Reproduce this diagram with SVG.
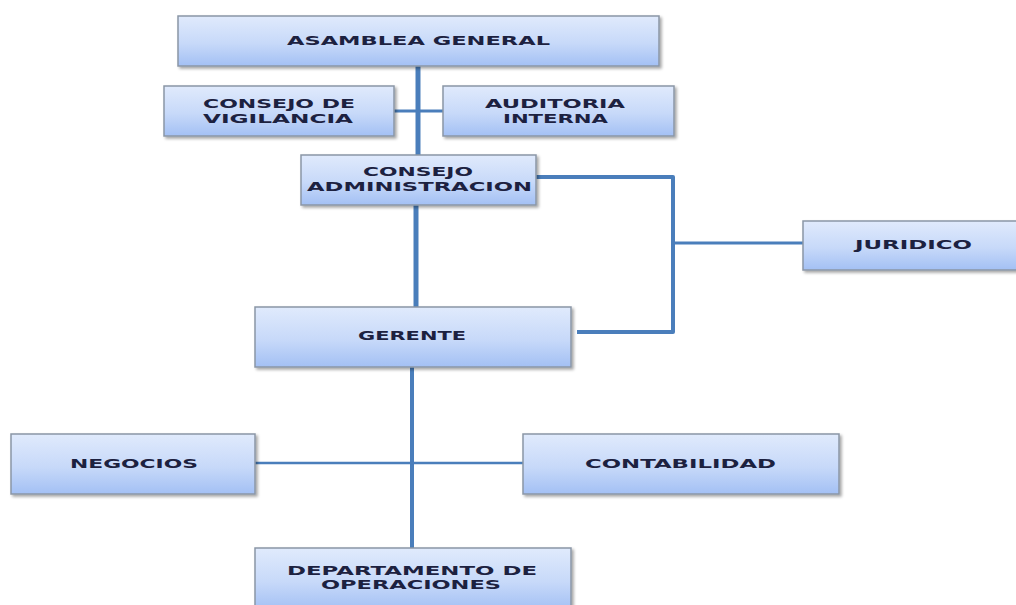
<svg xmlns="http://www.w3.org/2000/svg" width="1016" height="605" viewBox="0 0 1016 605">
<defs>
<linearGradient id="g" x1="0" y1="0" x2="0" y2="1">
<stop offset="0" stop-color="#e0eafc"/>
<stop offset="0.55" stop-color="#c7d9f9"/>
<stop offset="1" stop-color="#a3c0f4"/>
</linearGradient>
<filter id="sh" x="-5%" y="-10%" width="115%" height="130%">
<feDropShadow dx="2" dy="2" stdDeviation="1.5" flood-color="#000" flood-opacity="0.35"/>
</filter>
</defs>
<style>
.box{fill:url(#g);stroke:#8b96a6;stroke-width:1.5;filter:url(#sh)}
.t{font-family:"DejaVu Sans","Liberation Sans",sans-serif;font-weight:bold;font-size:13px;fill:#1c2140;text-anchor:middle}
.c{fill:none;stroke:#4a7ebb;stroke-linejoin:round}
</style>
<rect width="1016" height="605" fill="#fff"/>
<g id="connectors">
<line class="c" x1="418" y1="66" x2="418" y2="155" stroke-width="5"/>
<line class="c" x1="394" y1="111" x2="443" y2="111" stroke-width="3"/>
<line class="c" x1="416" y1="205" x2="416" y2="307" stroke-width="5"/>
<path class="c" d="M536 177 H673 V332 H577" stroke-width="4"/>
<line class="c" x1="673" y1="243" x2="803" y2="243" stroke-width="3"/>
<line class="c" x1="412" y1="367" x2="412" y2="548" stroke-width="4"/>
<line class="c" x1="255" y1="463" x2="523" y2="463" stroke-width="2.5"/>
</g>
<g id="asamblea">
<rect class="box" x="178" y="16" width="481" height="50"/>
<text class="t" x="418.5" y="44.5" textLength="263" lengthAdjust="spacingAndGlyphs">ASAMBLEA GENERAL</text>
</g>
<g id="vigilancia">
<rect class="box" x="164" y="86" width="230" height="50"/>
<text class="t" x="279" y="108" textLength="152" lengthAdjust="spacingAndGlyphs">CONSEJO DE</text>
<text class="t" x="278" y="123" textLength="150" lengthAdjust="spacingAndGlyphs">VIGILANCIA</text>
</g>
<g id="auditoria">
<rect class="box" x="443" y="86" width="231" height="50"/>
<text class="t" x="555" y="108" textLength="140" lengthAdjust="spacingAndGlyphs">AUDITORIA</text>
<text class="t" x="555.5" y="123" textLength="105" lengthAdjust="spacingAndGlyphs">INTERNA</text>
</g>
<g id="consejo-admin">
<rect class="box" x="301" y="155" width="235" height="50"/>
<text class="t" x="418" y="176" textLength="110" lengthAdjust="spacingAndGlyphs">CONSEJO</text>
<text class="t" x="419.5" y="191" textLength="225" lengthAdjust="spacingAndGlyphs">ADMINISTRACION</text>
</g>
<g id="juridico">
<rect class="box" x="803" y="221" width="215" height="49"/>
<text class="t" x="913.5" y="249" textLength="117" lengthAdjust="spacingAndGlyphs">JURIDICO</text>
</g>
<g id="gerente">
<rect class="box" x="255" y="307" width="316" height="60"/>
<text class="t" x="412" y="340" textLength="108" lengthAdjust="spacingAndGlyphs">GERENTE</text>
</g>
<g id="negocios">
<rect class="box" x="11" y="434" width="244" height="60"/>
<text class="t" x="134" y="468" textLength="128" lengthAdjust="spacingAndGlyphs">NEGOCIOS</text>
</g>
<g id="contabilidad">
<rect class="box" x="523" y="434" width="316" height="60"/>
<text class="t" x="680.5" y="468" textLength="191" lengthAdjust="spacingAndGlyphs">CONTABILIDAD</text>
</g>
<g id="operaciones">
<rect class="box" x="255" y="548" width="316" height="62"/>
<text class="t" x="412" y="575" textLength="250" lengthAdjust="spacingAndGlyphs">DEPARTAMENTO DE</text>
<text class="t" x="411" y="589" textLength="180" lengthAdjust="spacingAndGlyphs">OPERACIONES</text>
</g>
</svg>
